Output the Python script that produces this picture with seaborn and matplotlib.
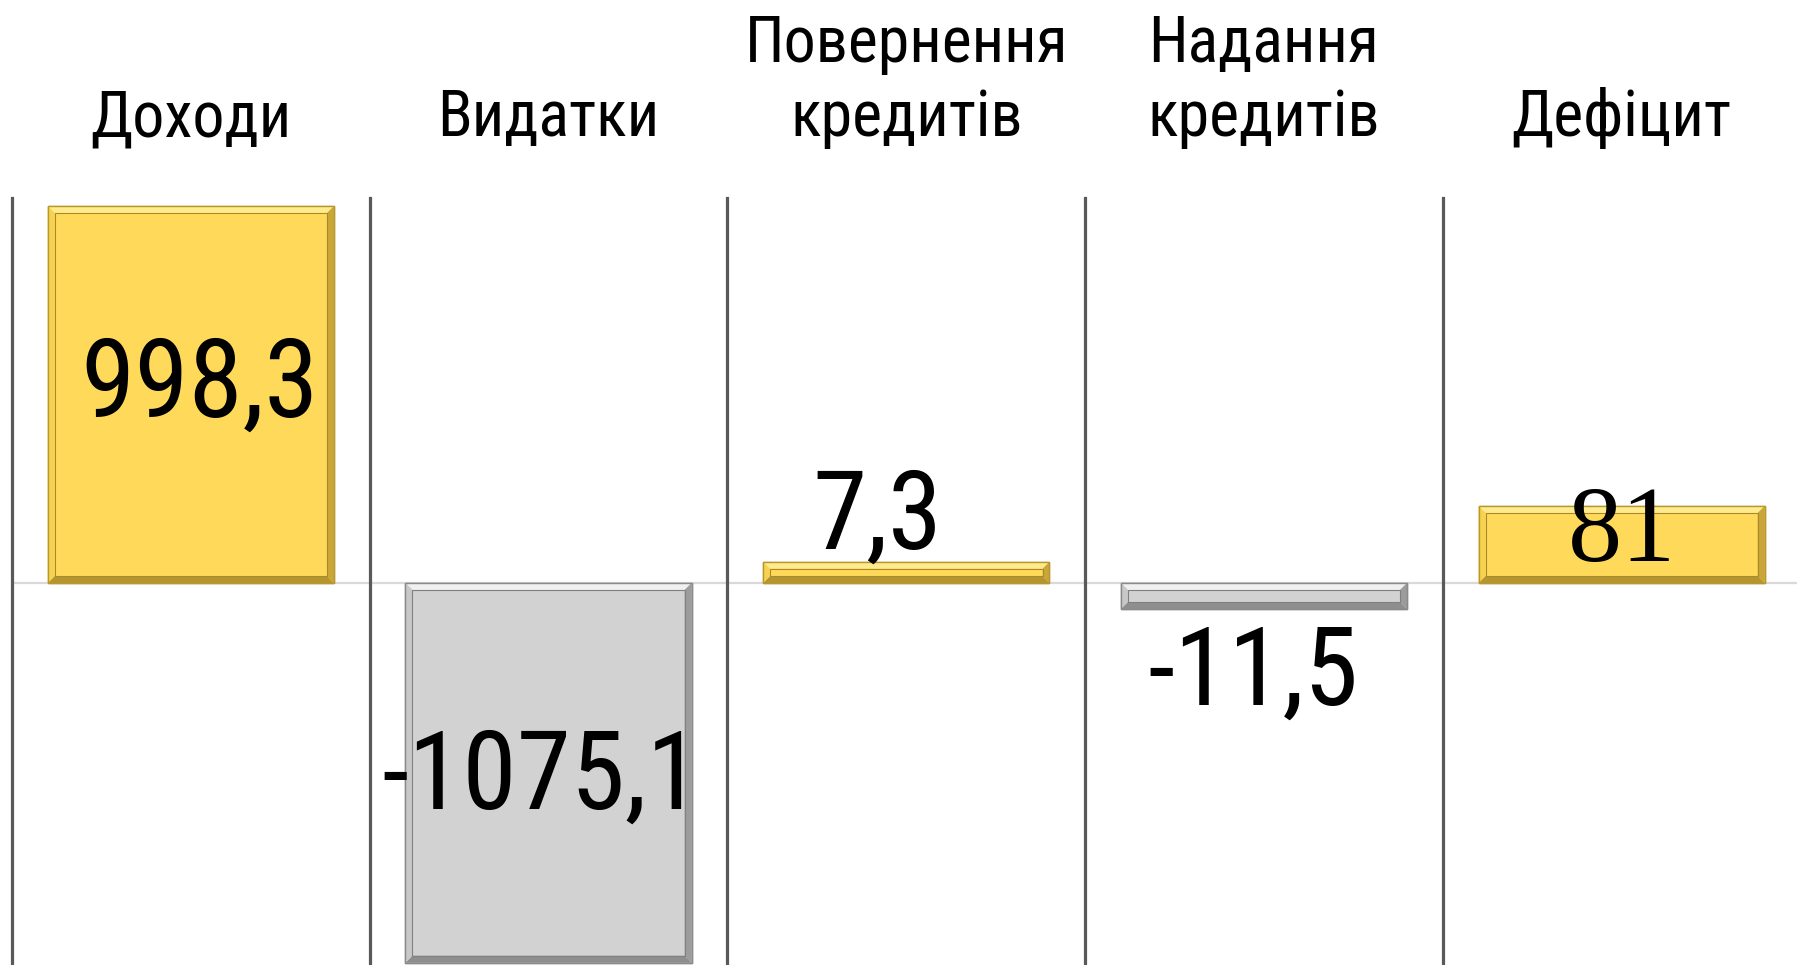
import numpy as np
import pandas as pd
import matplotlib
matplotlib.use("Agg")
import matplotlib.pyplot as plt
import seaborn as sns
from matplotlib.patches import Polygon
from matplotlib import font_manager

# ---------------- data ----------------
categories = ["Доходи", "Видатки", "Повернення\nкредитів", "Надання\nкредитів", "Дефіцит"]
values = [998.3, -1075.1, 7.3, -11.5, 81.0]
value_labels = ["998,3", "-1075,1", "7,3", "-11,5", "81"]
# each column is its own little chart with its own symmetric value axis
panel_limits = [1020, 1090, 134, 170, 405]

# ---------------- style ----------------
sns.set_theme(style="white")

# look for a condensed / narrow sans face
cond_path = None
pref = ["Liberation Sans Narrow", "DejaVu Sans Condensed", "Roboto Condensed",
        "Open Sans Condensed", "Noto Sans Condensed", "DejaVu Sans"]
cands = []
for f in font_manager.fontManager.ttflist:
    st = str(f.stretch)
    is_cond = ("ondensed" in st) or ("Narrow" in f.name) or ("Condensed" in f.name) \
        or ("Condensed" in f.fname) or ("Narrow" in f.fname)
    if not is_cond:
        continue
    if f.style != "normal":
        continue
    w = f.weight if isinstance(f.weight, int) else 400
    if w not in (400, "normal") and not (350 <= int(w) <= 450):
        continue
    rank = pref.index(f.name) if f.name in pref else len(pref)
    cands.append((rank, f.fname))
cands.sort()
if cands:
    cond_path = cands[0][1]

if cond_path:
    font_manager.fontManager.addfont(cond_path)
    fp_main = font_manager.FontProperties(fname=cond_path)
    main_family = fp_main.get_name()
else:
    main_family = "Liberation Sans"
plt.rcParams["font.family"] = [main_family, "DejaVu Sans"]

YELLOW = "#FFDA5A"
GRAY = "#D2D2D2"
BEVEL = {
    True: dict(edge="#B8982E", top="#FFEB8E", left="#F7D250", right="#C9A638",
               bottom="#B59530", inner="#A88A2A"),
    False: dict(edge="#8A8A8A", top="#F0F0F0", left="#C8C8C8", right="#9C9C9C",
                bottom="#8E8E8E", inner="#808080"),
}

W, H = 1797, 965
fig = plt.figure(figsize=(W / 100, H / 100), dpi=100)
fig.patch.set_facecolor("white")

left0 = 12.0
panel_w = 357.7
top_px = 198.0
ax_h = H - top_px

for i, (cat, val, lab, lim) in enumerate(zip(categories, values, value_labels, panel_limits)):
    lpx = left0 + panel_w * i
    ax = fig.add_axes([lpx / W, 0.0, panel_w / W, ax_h / H])
    ax.patch.set_alpha(0)
    df = pd.DataFrame({"cat": [cat], "val": [val]})
    pos = val >= 0
    face = YELLOW if pos else GRAY
    bv = BEVEL[pos]
    ax.axhline(0, color="#D9D9D9", lw=1.6, zorder=0.5)
    sns.barplot(data=df, x="cat", y="val", ax=ax, color=face, saturation=1,
                width=0.8, edgecolor=bv["edge"], linewidth=1.0, zorder=2)
    ax.set_xlim(-0.5, 0.5)
    ax.set_ylim(-lim * 382 / 385, lim)

    # bevel decoration derived from the drawn bar
    bar = ax.patches[0]
    bx, by, bw, bh = bar.get_x(), bar.get_y(), bar.get_width(), bar.get_height()
    px_x = panel_w / 1.0
    px_y = ax_h / (ax.get_ylim()[1] - ax.get_ylim()[0])
    x0, x1 = bx, bx + bw
    y0, y1 = min(by, by + bh), max(by, by + bh)
    hpx = (y1 - y0) * px_y
    band = min(7.0, hpx / 3.2)
    dx, dy = band / px_x, band / px_y
    polys = [
        ([(x0, y1), (x1, y1), (x1 - dx, y1 - dy), (x0 + dx, y1 - dy)], bv["top"]),
        ([(x0, y0), (x1, y0), (x1 - dx, y0 + dy), (x0 + dx, y0 + dy)], bv["bottom"]),
        ([(x0, y0), (x0, y1), (x0 + dx, y1 - dy), (x0 + dx, y0 + dy)], bv["left"]),
        ([(x1, y0), (x1, y1), (x1 - dx, y1 - dy), (x1 - dx, y0 + dy)], bv["right"]),
    ]
    for pts, col in polys:
        ax.add_patch(Polygon(pts, closed=True, facecolor=col, edgecolor="none", zorder=3))
    ax.add_patch(Polygon([(x0 + dx, y0 + dy), (x1 - dx, y0 + dy), (x1 - dx, y1 - dy),
                          (x0 + dx, y1 - dy)], closed=True, facecolor="none",
                         edgecolor=bv["inner"], lw=0.8, zorder=3.5))
    ax.add_patch(Polygon([(x0, y0), (x1, y0), (x1, y1), (x0, y1)], closed=True,
                         facecolor="none", edgecolor=bv["edge"], lw=1.0, zorder=3.6))

    # value labels
    fs = 79
    if abs(val) / lim > 0.5:
        ax.text(0.025 if pos else -0.02, val / 2 + (8 / px_y if pos else -6 / px_y), lab,
                ha="center", va="center", fontsize=fs, color="black", zorder=5)
    elif i == 4:
        ax.text(0.0, val / 2 + 9 / px_y, lab, ha="center", va="center",
                fontsize=78, color="black", zorder=5,
                family=["Liberation Serif", "DejaVu Serif"])
    elif pos:
        ax.text(-0.08, val + 13 / px_y, lab, ha="center", va="baseline",
                fontsize=fs, color="black", zorder=5)
    else:
        ax.text(-0.03, val - 14 / px_y, lab, ha="center", va="top",
                fontsize=fs, color="black", zorder=5)

    ax.set_xlabel("")
    ax.set_ylabel("")
    ax.set_xticks([])
    ax.set_yticks([])
    for s in ["top", "right", "bottom"]:
        ax.spines[s].set_visible(False)
    ax.spines["left"].set_visible(True)
    ax.spines["left"].set_color("#595959")
    ax.spines["left"].set_linewidth(2.3)

    # column header
    cx = (lpx + panel_w / 2) / W
    lines = cat.split("\n")
    base = 136.0
    for k, line in enumerate(reversed(lines)):
        fig.text(cx, 1 - (base - 74 * k) / H, line, ha="center", va="baseline",
                 fontsize=46, color="black")

fig.savefig("out.png", dpi=100, facecolor="white")
